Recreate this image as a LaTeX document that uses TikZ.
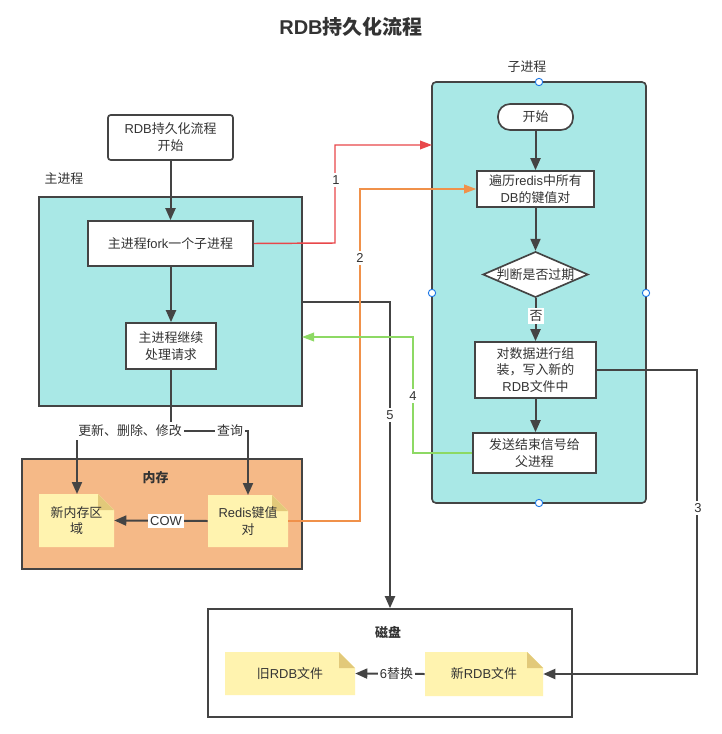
\documentclass[tikz,border=0pt]{standalone}
\usepackage{fontspec}
\setmainfont{Noto Sans CJK SC}
\newfontfamily\latfont{Liberation Sans}
\newcommand{\lat}[1]{{\latfont #1}}
\usetikzlibrary{arrows.meta,shapes.geometric,calc}
\definecolor{teal1}{HTML}{A9E8E6}
\definecolor{orange1}{HTML}{F5B987}
\definecolor{bord}{HTML}{444444}
\definecolor{txt}{HTML}{333333}
\definecolor{notey}{HTML}{FFF3AF}
\definecolor{notef}{HTML}{E2C97A}
\definecolor{redl}{HTML}{E8474A}
\definecolor{orl}{HTML}{F0914A}
\definecolor{grl}{HTML}{8DD964}
\definecolor{hand}{HTML}{1E78E6}
\tikzset{
  every node/.style={font=\fontsize{9.7pt}{12.6pt}\selectfont,text=txt,align=center,inner sep=0pt},
  conn/.style={draw=bord,line width=1.5pt,-{Triangle[length=9pt,width=7.5pt]}},
  connred/.style={draw=redl,line width=1.1pt,-{Triangle[length=9pt,width=6.5pt]}},
  connor/.style={draw=orl,line width=1.1pt,-{Triangle[length=9pt,width=6.5pt]}},
  conngr/.style={draw=grl,line width=1.1pt,-{Triangle[length=9pt,width=6.5pt]}},
  elabel/.style={fill=white,inner xsep=1.5pt,inner ysep=2pt},
  handle/.style={circle,draw=hand,fill=white,line width=0.7pt,minimum size=5.5pt},
}
% box: name, x1, y1, x2, y2, fill, corner radius, text
\newcommand{\bx}[8]{\node[draw=bord,line width=1.25pt,fill=#6,rounded corners=#7,minimum width={(#4-#2)*0.75pt},minimum height={(#5-#3)*0.75pt}] (#1) at ({(#2+#4)/2},{(#3+#5)/2}) {#8};}
% note: name, x1, y1, x2, y2, text
\newcommand{\nt}[6]{%
  \fill[notey] (#2,#3) -- ({#4-16},#3) -- (#4,{#3+16}) -- (#4,#5) -- (#2,#5) -- cycle;
  \fill[notef] ({#4-16},#3) -- (#4,{#3+16}) -- ({#4-16},{#3+16}) -- cycle;
  \node[minimum width={(#4-#2)*0.75pt},minimum height={(#5-#3)*0.75pt}] (#1) at ({(#2+#4)/2},{(#3+#5)/2}) {#6};}
\begin{document}
\begin{tikzpicture}[x=0.75pt,y=-0.75pt]
\useasboundingbox (0,0) rectangle (721,734);
\node[font=\fontsize{15pt}{18pt}\selectfont\bfseries] (title) at (351,27) {\lat{\bfseries RDB}持久化流程};
% containers
\bx{mainp}{39}{197}{302}{406}{teal1}{0pt}{}
\bx{mem}{22}{459}{302}{569}{orange1}{0pt}{}
\bx{child}{432}{82}{646}{503}{teal1}{3pt}{}
\bx{disk}{208}{609}{572}{717}{white}{0pt}{}
\node (lmain) at (64,179) {主进程};
\node (lchild) at (527,67) {子进程};
\node[font=\fontsize{9.7pt}{12pt}\selectfont\bfseries] (lmem) at (155.5,478) {内存};
\node[font=\fontsize{9.7pt}{12pt}\selectfont\bfseries] (ldisk) at (388,632) {磁盘};
% boxes
\bx{start}{108}{115}{233}{160}{white}{2pt}{\lat{RDB}持久化流程\\开始}
\bx{fork}{88}{221}{253}{266}{white}{0pt}{主进程\lat{fork}一个子进程}
\bx{cont}{126}{323}{216}{369}{white}{0pt}{主进程继续\\处理请求}
\bx{open}{498}{104}{573}{130}{white}{9pt}{开始}
\bx{trav}{477}{171}{594}{207}{white}{0pt}{遍历\lat{redis}中所有\\\lat{DB}的键值对}
\node[diamond,aspect=2.3,draw=bord,line width=1.25pt,fill=white,minimum width=77pt,minimum height=33.75pt] (judge) at (535.5,274.5) {判断是否过期};
\bx{asm}{475}{342}{596}{398}{white}{0pt}{对数据进行组\\装，写入新的\\\lat{RDB}文件中}
\bx{send}{473}{433}{596}{473}{white}{0pt}{发送结束信号给\\父进程}
% notes
\nt{newmem}{39}{494}{114}{547}{新内存区\\域}
\nt{redis}{208}{495}{288}{547}{\lat{Redis}键值\\对}
\nt{oldf}{225}{652}{355}{695}{旧\lat{RDB}文件}
\nt{newf}{425}{652}{543}{696}{新\lat{RDB}文件}
% bend coordinates
\coordinate (a1) at (335,243);
\coordinate (a1b) at (432,145);
\coordinate (a2) at (360,521);
\coordinate (a3) at (697,370);
\coordinate (a4) at (413,453);
\coordinate (a4b) at (302,337);
\coordinate (a5a) at (302,302);
\coordinate (a5) at (390,302);
\coordinate (split) at (171,431);
\coordinate (lefttop) at (77,431);
\coordinate (righttop) at (248,431);
\coordinate (newtop) at (77,494);
\coordinate (redtop) at (248,495);
% black connectors
\draw[conn] (start.south) -- (fork.north -| start.south);
\draw[conn] (fork.south -| cont.north) -- (cont.north);
\draw[conn] (open.south) -- (trav.north -| open.south);
\draw[conn] (trav.south) -- (judge.north);
\draw[conn] (judge.south) -- (asm.north -| judge.south);
\draw[conn] (asm.south) -- (send.north -| asm.south);
\draw[conn,-] (cont.south) -- (split);
\draw[conn] (split) -- (lefttop) -- (newtop);
\draw[conn] (split) -- (righttop) -- (redtop);
\draw[conn] (redis.west) -- (newmem.east);
\draw[conn] (newf.west) -- (oldf.east);
\draw[conn] (asm.east |- a3) -- (a3) -- (a3 |- newf.east) -- (newf.east);
\draw[conn] (a5a) -- (a5) -- (a5 |- disk.north);
% coloured connectors
\draw[connred] (fork.east) -- (a1) -- (a1 |- a1b) -- (a1b);
\draw[connor] (redis.east) -- (a2) -- (a2 |- trav.west) -- (trav.west);
\draw[conngr] (send.west) -- (a4) -- (a4 |- a4b) -- (a4b);
% labels
\node[elabel] (t1) at (336,180) {\lat{1}};
\node[elabel] (t2) at (360,258) {\lat{2}};
\node[elabel] (t3) at (698,508) {\lat{3}};
\node[elabel] (t4) at (413,396) {\lat{4}};
\node[elabel] (t5) at (390,415) {\lat{5}};
\node[elabel] (t6) at (396.5,674) {\lat{6}替换};
\node[elabel] (tno) at (536,316) {否};
\node[elabel] (tcow) at (166,521) {\lat{COW}};
\node[elabel] (tup) at (130,431) {更新、删除、修改};
\node[elabel] (tq) at (230,431) {查询};
% handles
\node[handle] (h1) at (539,82) {};
\node[handle] (h2) at (432,293) {};
\node[handle] (h3) at (646,293) {};
\node[handle] (h4) at (539,503) {};
\end{tikzpicture}
\end{document}
